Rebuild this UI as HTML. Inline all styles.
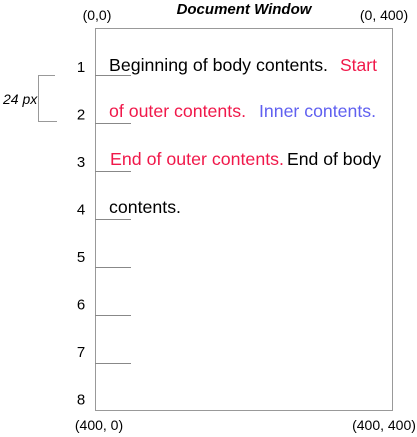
<!DOCTYPE html>
<html><head><meta charset="utf-8"><style>
html,body{margin:0;padding:0;background:#fff;}
svg{display:block;font-family:"Liberation Sans",Arial,sans-serif;}
</style></head><body>
<svg width="417" height="437" viewBox="0 0 417 437">
<text x="244" y="14" font-size="15" font-weight="bold" font-style="italic" text-anchor="middle">Document Window</text>
<text x="97" y="20" font-size="14" text-anchor="middle">(0,0)</text>
<text x="384" y="20" font-size="14" text-anchor="middle">(0, 400)</text>
<text x="99" y="430" font-size="14" text-anchor="middle">(400, 0)</text>
<text x="384" y="430" font-size="14" text-anchor="middle">(400, 400)</text>
<rect x="95.5" y="28.5" width="297" height="382" fill="none" stroke="#999" stroke-width="1"/>
<g id="rows"></g>
<g stroke="#999" fill="none">
<path d="M55 75.5 H38.5 V121.5 H57"/>
</g>
<text x="3" y="104" font-size="14" font-style="italic">24 px</text>
<g font-size="17.5">
<text x="109" y="71"><tspan fill="#000" textLength="219" lengthAdjust="spacingAndGlyphs">Beginning of body contents.</tspan><tspan x="340" fill="#f0184a" textLength="37" lengthAdjust="spacingAndGlyphs">Start</tspan></text>
<text x="109" y="117"><tspan fill="#f0184a" textLength="137" lengthAdjust="spacingAndGlyphs">of outer contents.</tspan><tspan x="259" fill="#6060f0" textLength="117" lengthAdjust="spacingAndGlyphs">Inner contents.</tspan></text>
<text x="110" y="165"><tspan fill="#f0184a" textLength="174" lengthAdjust="spacingAndGlyphs">End of outer contents.</tspan><tspan x="287" fill="#000" textLength="94" lengthAdjust="spacingAndGlyphs">End of body</tspan></text>
<text x="109" y="213" fill="#000" textLength="72" lengthAdjust="spacingAndGlyphs">contents.</text>
</g>
</svg>
<script>
const rowNumbers=[1,2,3,4,5,6,7,8];
const g=document.getElementById('rows');
const ns='http://www.w3.org/2000/svg';
rowNumbers.forEach((n,i)=>{
  const t=document.createElementNS(ns,'text');
  t.setAttribute('x','81');t.setAttribute('y',String(72+i*47.5));
  t.setAttribute('font-size','15');t.setAttribute('text-anchor','middle');
  t.textContent=n;
  
  
  g.appendChild(t);
  if(i<7){
    const l=document.createElementNS(ns,'line');
    const y=75.5+i*48;
    l.setAttribute('x1','95');l.setAttribute('x2','131');
    l.setAttribute('y1',y);l.setAttribute('y2',y);
    l.setAttribute('stroke','#888');
    
    
    g.appendChild(l);
  }
});
</script>
</body></html>
